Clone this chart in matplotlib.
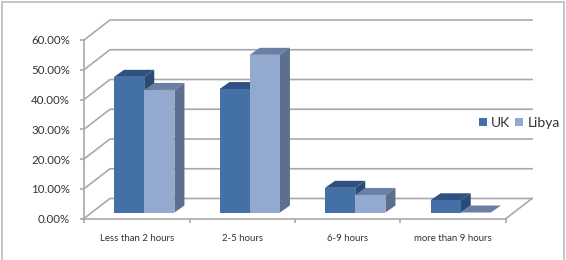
import numpy as np
import matplotlib
matplotlib.use('Agg')
import matplotlib.pyplot as plt
from matplotlib.patches import Polygon, Rectangle

categories = ['Less than 2 hours', '2-5 hours', '6-9 hours', 'more than 9 hours']
series_names = ['UK', 'Libya']
uk_values = [45.6, 41.5, 8.3, 4.1]
libya_values = [41.2, 53.0, 5.9, 0.0]
y_ticks = [0, 10, 20, 30, 40, 50, 60]

W, H = 566, 260
plt.rcParams['font.family'] = ['Lato', 'DejaVu Sans']

front_colors = ['#4470a8', '#94a9d0']
top_colors = ['#2f5080', '#6a7fa3']
side_colors = ['#2b4a75', '#5d6e8e']
grid_color = '#a9a9a9'

fig = plt.figure(figsize=(W / 100, H / 100), dpi=100)

# outer chart frame, its bottom edge runs off the canvas
fig.add_artist(Rectangle((1.5 / W, -10 / H), 562.5 / W, (H + 10 - 1.5) / H, transform=fig.transFigure,
                         fill=False, edgecolor='#c0c0c0', linewidth=1.3))

# main axes is the front plane of the 3d box
left, right, top, bottom = 84, 506, 40, 218.5
ax = fig.add_axes([left / W, 1 - bottom / H, (right - left) / W, (bottom - top) / H])
ax.set_xlim(0, 4)
ax.set_ylim(0, 60)
ax.patch.set_visible(False)

px_x = 4 / (right - left)
px_y = 60 / (bottom - top)

# depth of the floor and of the bars, in data units
depth_x, depth_y = 26 * px_x, 20 * px_y
shift_x, shift_y = 7.5 * px_x, 6 * px_y
bar_dx, bar_dy = 10 * px_x, 7 * px_y
bar_w = 30.2 * px_x

# back wall grid and the side wall lines
for v in y_ticks:
    ax.plot([0, depth_x, 4 + depth_x], [v, v + depth_y, v + depth_y], color=grid_color, lw=1.2,
            clip_on=False, zorder=1, solid_joinstyle='miter')
ax.plot([4, 4 + depth_x], [0, depth_y], color=grid_color, lw=1.2, clip_on=False, zorder=1)

x = np.arange(len(categories)) + 0.5 + shift_x


def draw_bars(xpos, values, idx):
    for xc, v in zip(xpos, values):
        x0, x1 = xc, xc + bar_w
        y0, y1 = shift_y, shift_y + v
        # top and side faces
        ax.add_patch(Polygon([(x0, y1), (x1, y1), (x1 + bar_dx, y1 + bar_dy), (x0 + bar_dx, y1 + bar_dy)],
                             closed=True, facecolor=top_colors[idx], edgecolor='none', clip_on=False, zorder=3))
        ax.add_patch(Polygon([(x1, y0), (x1, y1), (x1 + bar_dx, y1 + bar_dy), (x1 + bar_dx, y0 + bar_dy)],
                             closed=True, facecolor=side_colors[idx], edgecolor='none', clip_on=False, zorder=3))
    ax.bar(xpos, values, width=bar_w, bottom=shift_y, align='edge', color=front_colors[idx],
           label=series_names[idx], zorder=4, clip_on=False)


draw_bars(x - bar_w, uk_values, 0)
draw_bars(x, libya_values, 1)

ax.set_yticks(y_ticks)
ax.set_yticklabels(['%.2f%%' % v for v in y_ticks], fontsize=8.3, color='#333333')
ax.set_xticks(range(5))
ax.set_xticklabels([])
ax.set_xticks(np.arange(4) + 0.5, minor=True)
ax.set_xticklabels(categories, minor=True, fontsize=6.9, color='#333333')
ax.tick_params(axis='x', which='minor', length=0, pad=11)
ax.tick_params(axis='x', which='major', length=3, color=grid_color, width=1.2, direction='out')
ax.tick_params(axis='y', length=3, color=grid_color, width=1.2, pad=7)
for s in ['top', 'right']:
    ax.spines[s].set_visible(False)
for s in ['left', 'bottom']:
    ax.spines[s].set_color(grid_color)
    ax.spines[s].set_linewidth(1.2)

ax.legend(loc='center left', bbox_to_anchor=(479 / W, 1 - 123 / H), bbox_transform=fig.transFigure,
          ncol=2, frameon=False, fontsize=10, handlelength=0.58, handleheight=0.58,
          handletextpad=0.3, columnspacing=0.35, borderpad=0, borderaxespad=0, labelcolor='#333333')

fig.savefig('out.png', dpi=100)
